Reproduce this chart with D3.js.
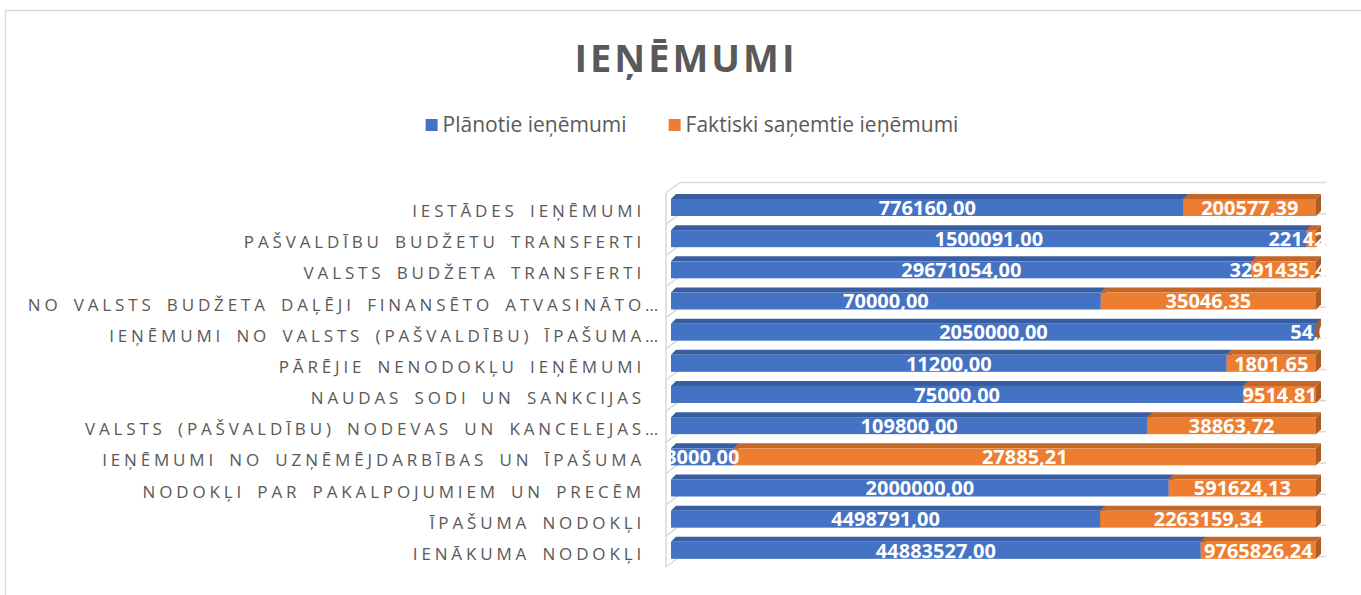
<!DOCTYPE html>
<html lang="lv">
<head>
<meta charset="utf-8">
<script src="https://d3js.org/d3.v7.min.js"></script>
<style>
body { margin: 0; background: #fff; }
svg { display: block; }
.title { font: bold 38px "Open Sans", sans-serif; fill: #595959; letter-spacing: 3px; }
.legend text { font: 21px "Open Sans", sans-serif; fill: #595959; }
.cat { font: 17px "Open Sans", sans-serif; fill: #595959; letter-spacing: 3.85px; word-spacing: 4px; }
.val { font: bold 20px "Open Sans", sans-serif; fill: #fff; }
.wall { stroke: #d9d9d9; stroke-width: 1.5; fill: none; }
</style>
</head>
<body>
<div id="chart"></div>
<script>
// chart data, top row first
var categories = [
  "IESTĀDES IEŅĒMUMI",
  "PAŠVALDĪBU BUDŽETU TRANSFERTI",
  "VALSTS BUDŽETA TRANSFERTI",
  "NO VALSTS BUDŽETA DAĻĒJI FINANSĒTO ATVASINĀTO…",
  "IEŅĒMUMI NO VALSTS (PAŠVALDĪBU) ĪPAŠUMA…",
  "PĀRĒJIE NENODOKĻU IEŅĒMUMI",
  "NAUDAS SODI UN SANKCIJAS",
  "VALSTS (PAŠVALDĪBU) NODEVAS UN KANCELEJAS…",
  "IEŅĒMUMI NO UZŅĒMĒJDARBĪBAS UN ĪPAŠUMA",
  "NODOKĻI PAR PAKALPOJUMIEM UN PRECĒM",
  "ĪPAŠUMA NODOKĻI",
  "IENĀKUMA NODOKĻI"
];
var planned = [776160, 1500091, 29671054, 70000, 2050000, 11200, 75000, 109800, 3000, 2000000, 4498791, 44883527];
var actual = [200577.39, 22142.00, 3291435.40, 35046.35, 54.00, 1801.65, 9514.81, 38863.72, 27885.21, 591624.13, 2263159.34, 9765826.24];
var seriesNames = ["Plānotie ieņēmumi", "Faktiski saņemtie ieņēmumi"];
var seriesColors = ["#4472C4", "#ED7D31"];

var width = 1361, height = 595;
var depthX = 14, depthY = -10.5;   // wall depth
var barDX = 5, barDY = -5;         // bar depth

var svg = d3.select("#chart").append("svg")
  .attr("width", width)
  .attr("height", height);

// outer chart frame
svg.append("rect")
  .attr("x", 5.5).attr("y", 10.5)
  .attr("width", 1400).attr("height", 700)
  .attr("fill", "none").attr("stroke", "#d9d9d9").attr("stroke-width", 1.5);

svg.append("text")
  .attr("class", "title")
  .attr("x", 686).attr("y", 72)
  .attr("text-anchor", "middle")
  .text("IEŅĒMUMI");

// legend
var legend = svg.append("g").attr("class", "legend");
var lx = 0, itemGap = 42;
seriesNames.forEach(function(name, i) {
  var g = legend.append("g").attr("transform", "translate(" + lx + ",0)");
  g.append("rect").attr("x", 0).attr("y", -6).attr("width", 12).attr("height", 12)
    .attr("fill", seriesColors[i]);
  var t = g.append("text").attr("x", 17).attr("y", 0).attr("dy", "0.35em").text(name);
  lx += 17 + t.node().getComputedTextLength() + itemGap;
});
lx -= itemGap;
legend.attr("transform", "translate(" + (692 - lx / 2) + ",125)");

// scales
var x = d3.scaleLinear().domain([0, 1]).range([671, 1316]);
var y = d3.scaleBand().domain(categories).range([193, 567]);
var bounds = categories.map(function(c) { return y(c); }).concat([y.range()[1]]);

// walls: left wall edge, depth lines and back wall lines
var walls = svg.append("g").attr("class", "wall");
walls.append("line")
  .attr("x1", 666).attr("x2", 666)
  .attr("y1", bounds[0]).attr("y2", bounds[bounds.length - 1]);
bounds.forEach(function(b) {
  walls.append("line")
    .attr("x1", 666).attr("y1", b)
    .attr("x2", 666 + depthX).attr("y2", b + depthY);
  walls.append("line")
    .attr("x1", 666 + depthX).attr("y1", b + depthY)
    .attr("x2", x(1) + 10).attr("y2", b + depthY);
});

// category labels
var labels = svg.append("g");
categories.forEach(function(c) {
  var cy = y(c) + y.bandwidth() / 2 + 2.5;
  var cut = c.slice(-1) === "…";
  labels.append("text").attr("class", "cat")
    .attr("x", 645).attr("y", cy).attr("dy", "0.35em")
    .attr("text-anchor", "end")
    .text(cut ? c.slice(0, -1) : c);
  if (cut) {
    labels.append("text").attr("class", "cat")
      .attr("x", 645).attr("y", cy).attr("dy", "0.35em")
      .style("letter-spacing", "0px")
      .text("…");
  }
});

// bars
function fmt(v) { return d3.format(".2f")(v).replace(".", ","); }

var rows = categories.map(function(c, i) {
  var tot = planned[i] + actual[i];
  return {cat: c, segs: [
    {v: planned[i], x0: 0, x1: planned[i] / tot, color: seriesColors[0]},
    {v: actual[i], x0: planned[i] / tot, x1: 1, color: seriesColors[1]}
  ]};
});

var bars = svg.append("g");
var frontH = 17;
rows.forEach(function(r) {
  var yf = y(r.cat) + 6;
  r.segs.forEach(function(s) {
    var a = x(s.x0), b = x(s.x1);
    var col = d3.color(s.color);
    bars.append("path")
      .attr("d", "M" + a + "," + yf + "L" + (a + barDX) + "," + (yf + barDY) +
        "L" + (b + barDX) + "," + (yf + barDY) + "L" + b + "," + yf + "Z")
      .attr("fill", col.darker(0.55));
    bars.append("path")
      .attr("d", "M" + b + "," + yf + "L" + (b + barDX) + "," + (yf + barDY) +
        "L" + (b + barDX) + "," + (yf + barDY + frontH) + "L" + b + "," + (yf + frontH) + "Z")
      .attr("fill", col.darker(0.9));
    bars.append("rect")
      .attr("x", a).attr("y", yf)
      .attr("width", b - a).attr("height", frontH)
      .attr("fill", s.color);
  });
});

// data labels, clipped to the plot area
svg.append("clipPath").attr("id", "plotclip")
  .append("rect").attr("x", 669).attr("y", 180).attr("width", 656).attr("height", 400);
var vals = svg.append("g").attr("clip-path", "url(#plotclip)");
rows.forEach(function(r) {
  var yf = y(r.cat) + 6;
  r.segs.forEach(function(s) {
    vals.append("text").attr("class", "val")
      .attr("x", (x(s.x0) + x(s.x1)) / 2)
      .attr("y", yf + frontH / 2)
      .attr("dy", "0.36em")
      .attr("text-anchor", "middle")
      .text(fmt(s.v));
  });
});
</script>
</body>
</html>
